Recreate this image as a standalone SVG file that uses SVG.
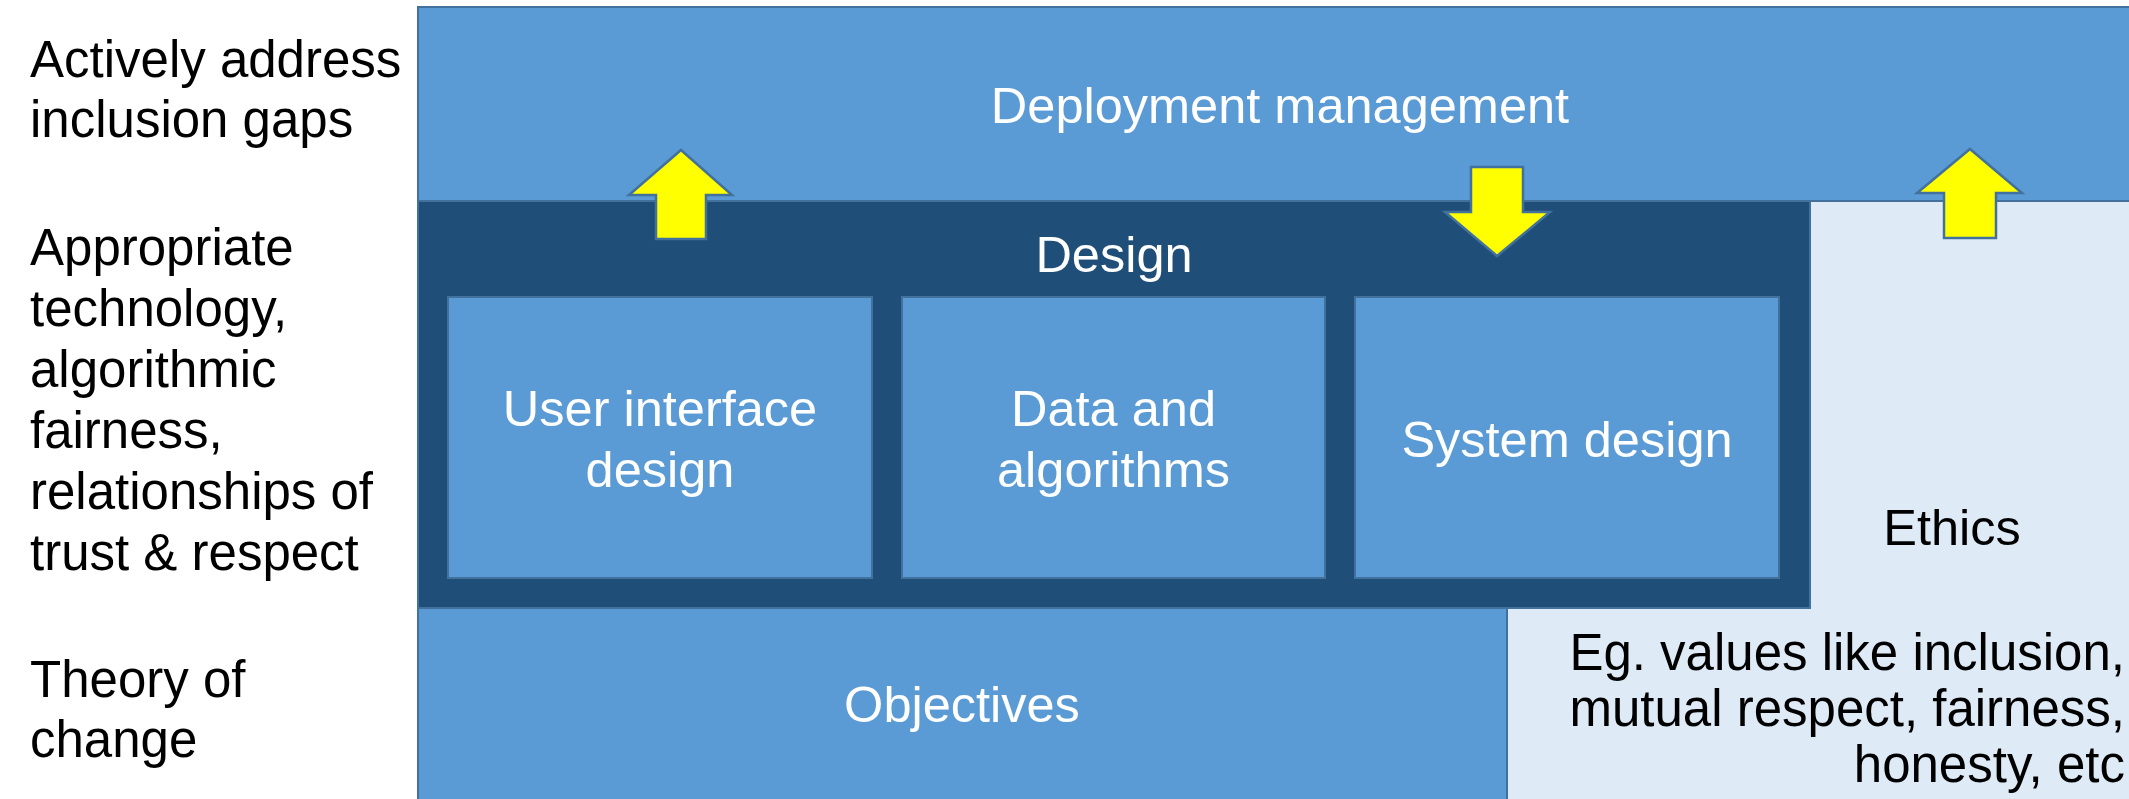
<svg xmlns="http://www.w3.org/2000/svg" width="2129" height="799" viewBox="0 0 2129 799">
  <style>
    .mid { fill: #5B9BD5; stroke: #41719C; stroke-width: 2; }
    .dark { fill: #1F4E79; stroke: #41719C; stroke-width: 2; }
    .light { fill: #DEEBF7; stroke: #41719C; stroke-width: 2; }
    .arrow { fill: #FFFF00; stroke: #41719C; stroke-width: 2.5; stroke-linejoin: miter; }
    text { font-family: "Liberation Sans", Arial, sans-serif; font-size: 50.5px; }
    .w { fill: #FFFFFF; text-anchor: middle; }
    .k { fill: #000000; }
    .side { font-size: 51px; }
    .note { font-size: 51px; text-anchor: end; }
  </style>
  <rect width="2129" height="799" fill="#FFFFFF"/>

  <!-- Side labels -->
  <g id="labels">
    <text class="k side" x="30" y="77">Actively address</text>
    <text class="k side" x="30" y="137">inclusion gaps</text>
    <text class="k side" x="30" y="265">Appropriate</text>
    <text class="k side" x="30" y="326">technology,</text>
    <text class="k side" x="30" y="387">algorithmic</text>
    <text class="k side" x="30" y="448">fairness,</text>
    <text class="k side" x="30" y="509">relationships of</text>
    <text class="k side" x="30" y="570">trust &amp; respect</text>
    <text class="k side" x="30" y="697">Theory of</text>
    <text class="k side" x="30" y="757">change</text>
  </g>

  <!-- Ethics backdrop -->
  <g id="ethics">
    <rect class="light" x="1507" y="201" width="640" height="620"/>
    <text class="k" x="1952" y="545" text-anchor="middle">Ethics</text>
    <text class="k note" x="2125" y="670">Eg. values like inclusion,</text>
    <text class="k note" x="2125" y="726">mutual respect, fairness,</text>
    <text class="k note" x="2125" y="782">honesty, etc</text>
  </g>

  <!-- Objectives -->
  <g id="objectives">
    <rect class="mid" x="418" y="608" width="1089" height="210"/>
    <text class="w" x="962" y="722">Objectives</text>
  </g>

  <!-- Design layer with its three parts -->
  <g id="design">
    <rect class="dark" x="418" y="201" width="1392" height="407"/>
    <text class="w" x="1114" y="272">Design</text>
  </g>
  <g id="ui-design">
    <rect class="mid" x="448" y="297" width="424" height="281"/>
    <text class="w" x="660" y="426">User interface</text>
    <text class="w" x="660" y="487">design</text>
  </g>
  <g id="data-algorithms">
    <rect class="mid" x="902" y="297" width="423" height="281"/>
    <text class="w" x="1113.5" y="426">Data and</text>
    <text class="w" x="1113.5" y="487">algorithms</text>
  </g>
  <g id="system-design">
    <rect class="mid" x="1355" y="297" width="424" height="281"/>
    <text class="w" x="1567" y="457">System design</text>
  </g>

  <!-- Deployment management -->
  <g id="deployment">
    <rect class="mid" x="418" y="7" width="1730" height="194"/>
    <text class="w" x="1280" y="123">Deployment management</text>
  </g>

  <!-- Block arrows -->
  <g id="connectors">
    <polygon class="arrow" points="681,150 732,195 706,195 706,239 656,239 656,195 629,195"/>
    <polygon class="arrow" points="1471,167 1523,167 1523,212 1550,212 1497,256 1445,212 1471,212"/>
    <polygon class="arrow" points="1970,149 2022,193 1996,193 1996,238 1944,238 1944,193 1917,193"/>
  </g>
</svg>
